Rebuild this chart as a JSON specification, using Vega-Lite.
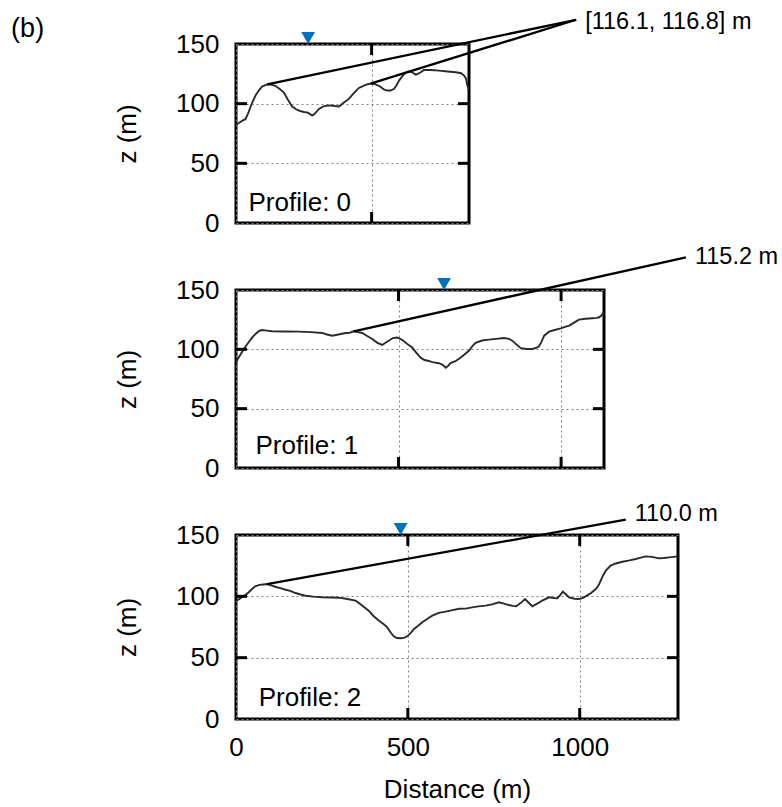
{
  "$schema": "https://vega.github.io/schema/vega-lite/v6.json",
  "autosize": {"type": "pad"},
  "padding": {"left": 11, "top": 8, "right": 2, "bottom": 4},
  "background": "white",
  "title": {
    "text": "(b)",
    "anchor": "start",
    "frame": "bounds",
    "offset": 0,
    "dx": -102,
    "dy": 35,
    "font": "Liberation Sans",
    "fontSize": 27,
    "fontWeight": "normal",
    "color": "black"
  },
  "config": {
    "font": "Liberation Sans",
    "view": {"stroke": "black", "strokeWidth": 3},
    "axis": {
      "domain": false,
      "ticks": false,
      "tickSize": 0,
      "labelFont": "Liberation Sans",
      "labelFontSize": 26,
      "labelColor": "black",
      "labelFlush": false,
      "labelOverlap": false,
      "titleFont": "Liberation Sans",
      "titleFontSize": 26,
      "titleFontWeight": "normal",
      "titleColor": "black",
      "gridColor": "#808080",
      "gridDash": [2, 3],
      "gridWidth": 1,
      "gridOpacity": 1
    },
    "text": {"font": "Liberation Sans", "color": "black"}
  },
  "datasets": {
    "profiles": [
      {"profile": 0, "d": 0, "z": 82.5}, {"profile": 0, "d": 12, "z": 84}, {"profile": 0, "d": 25, "z": 86},
      {"profile": 0, "d": 35, "z": 87}, {"profile": 0, "d": 45, "z": 92}, {"profile": 0, "d": 53, "z": 97},
      {"profile": 0, "d": 62, "z": 102}, {"profile": 0, "d": 72, "z": 106.8}, {"profile": 0, "d": 84, "z": 111},
      {"profile": 0, "d": 96, "z": 114.3}, {"profile": 0, "d": 115, "z": 116.1}, {"profile": 0, "d": 130, "z": 116},
      {"profile": 0, "d": 145, "z": 115}, {"profile": 0, "d": 160, "z": 112.5}, {"profile": 0, "d": 176, "z": 109.5},
      {"profile": 0, "d": 192, "z": 103}, {"profile": 0, "d": 207, "z": 97.6}, {"profile": 0, "d": 220, "z": 95.5},
      {"profile": 0, "d": 232, "z": 94.2}, {"profile": 0, "d": 250, "z": 93}, {"profile": 0, "d": 265, "z": 92.5},
      {"profile": 0, "d": 281, "z": 90}, {"profile": 0, "d": 290, "z": 91.5}, {"profile": 0, "d": 306, "z": 95.6},
      {"profile": 0, "d": 320, "z": 97.5}, {"profile": 0, "d": 336, "z": 98.4}, {"profile": 0, "d": 350, "z": 98.5},
      {"profile": 0, "d": 365, "z": 98}, {"profile": 0, "d": 380, "z": 97.6}, {"profile": 0, "d": 398, "z": 101},
      {"profile": 0, "d": 416, "z": 104}, {"profile": 0, "d": 435, "z": 109}, {"profile": 0, "d": 453, "z": 113.2},
      {"profile": 0, "d": 470, "z": 115}, {"profile": 0, "d": 485, "z": 116.3}, {"profile": 0, "d": 496, "z": 116.8},
      {"profile": 0, "d": 510, "z": 116.5}, {"profile": 0, "d": 527, "z": 115}, {"profile": 0, "d": 545, "z": 112},
      {"profile": 0, "d": 558, "z": 111}, {"profile": 0, "d": 570, "z": 111}, {"profile": 0, "d": 583, "z": 112.4},
      {"profile": 0, "d": 592, "z": 115.5}, {"profile": 0, "d": 601, "z": 119.3}, {"profile": 0, "d": 610, "z": 122},
      {"profile": 0, "d": 620, "z": 125}, {"profile": 0, "d": 632, "z": 126.8}, {"profile": 0, "d": 644, "z": 127},
      {"profile": 0, "d": 654, "z": 125.5}, {"profile": 0, "d": 663, "z": 124.3}, {"profile": 0, "d": 672, "z": 125.2},
      {"profile": 0, "d": 681, "z": 126.3}, {"profile": 0, "d": 693, "z": 128.3}, {"profile": 0, "d": 720, "z": 128.2},
      {"profile": 0, "d": 749, "z": 127.7}, {"profile": 0, "d": 780, "z": 127}, {"profile": 0, "d": 810, "z": 126.3},
      {"profile": 0, "d": 830, "z": 125.5}, {"profile": 0, "d": 841, "z": 123.5}, {"profile": 0, "d": 848, "z": 121},
      {"profile": 0, "d": 853, "z": 115}, {"profile": 0, "d": 858, "z": 112},

      {"profile": 1, "d": 0, "z": 89}, {"profile": 1, "d": 8, "z": 93}, {"profile": 1, "d": 18, "z": 97.6},
      {"profile": 1, "d": 28, "z": 102}, {"profile": 1, "d": 39, "z": 106}, {"profile": 1, "d": 50, "z": 110},
      {"profile": 1, "d": 60, "z": 113}, {"profile": 1, "d": 70, "z": 115.3}, {"profile": 1, "d": 80, "z": 116.3},
      {"profile": 1, "d": 95, "z": 115.8}, {"profile": 1, "d": 111, "z": 115.2}, {"profile": 1, "d": 150, "z": 115},
      {"profile": 1, "d": 193, "z": 114.9}, {"profile": 1, "d": 230, "z": 114.5}, {"profile": 1, "d": 265, "z": 113.8},
      {"profile": 1, "d": 280, "z": 112.5}, {"profile": 1, "d": 296, "z": 111.5}, {"profile": 1, "d": 315, "z": 112.5},
      {"profile": 1, "d": 337, "z": 113.8}, {"profile": 1, "d": 350, "z": 114}, {"profile": 1, "d": 362, "z": 115.2},
      {"profile": 1, "d": 375, "z": 114.5}, {"profile": 1, "d": 388, "z": 113.8}, {"profile": 1, "d": 405, "z": 111},
      {"profile": 1, "d": 419, "z": 108.7}, {"profile": 1, "d": 435, "z": 105.5}, {"profile": 1, "d": 450, "z": 103.7},
      {"profile": 1, "d": 460, "z": 105.5}, {"profile": 1, "d": 470, "z": 107.3}, {"profile": 1, "d": 482, "z": 109.5},
      {"profile": 1, "d": 496, "z": 110}, {"profile": 1, "d": 511, "z": 108}, {"profile": 1, "d": 527, "z": 104.5},
      {"profile": 1, "d": 542, "z": 101.5}, {"profile": 1, "d": 555, "z": 97}, {"profile": 1, "d": 568, "z": 93},
      {"profile": 1, "d": 580, "z": 91}, {"profile": 1, "d": 593, "z": 90.2}, {"profile": 1, "d": 604, "z": 89.2},
      {"profile": 1, "d": 624, "z": 88.3}, {"profile": 1, "d": 636, "z": 87}, {"profile": 1, "d": 645, "z": 84.5},
      {"profile": 1, "d": 652, "z": 86}, {"profile": 1, "d": 660, "z": 88.4}, {"profile": 1, "d": 675, "z": 90},
      {"profile": 1, "d": 686, "z": 92}, {"profile": 1, "d": 700, "z": 95}, {"profile": 1, "d": 717, "z": 99},
      {"profile": 1, "d": 728, "z": 103}, {"profile": 1, "d": 737, "z": 105.4}, {"profile": 1, "d": 757, "z": 107.4},
      {"profile": 1, "d": 778, "z": 108.2}, {"profile": 1, "d": 800, "z": 108.8}, {"profile": 1, "d": 824, "z": 109.6},
      {"profile": 1, "d": 840, "z": 108.8}, {"profile": 1, "d": 850, "z": 107.3}, {"profile": 1, "d": 863, "z": 104},
      {"profile": 1, "d": 876, "z": 101}, {"profile": 1, "d": 895, "z": 100.3}, {"profile": 1, "d": 912, "z": 100.3},
      {"profile": 1, "d": 925, "z": 101.5}, {"profile": 1, "d": 932, "z": 102.6}, {"profile": 1, "d": 940, "z": 106.5},
      {"profile": 1, "d": 948, "z": 111.5}, {"profile": 1, "d": 963, "z": 114.9}, {"profile": 1, "d": 980, "z": 116.3},
      {"profile": 1, "d": 999, "z": 117.7}, {"profile": 1, "d": 1012, "z": 119}, {"profile": 1, "d": 1025, "z": 120},
      {"profile": 1, "d": 1040, "z": 122.5}, {"profile": 1, "d": 1055, "z": 125}, {"profile": 1, "d": 1075, "z": 125.8},
      {"profile": 1, "d": 1096, "z": 126.2}, {"profile": 1, "d": 1110, "z": 126.5}, {"profile": 1, "d": 1117, "z": 127},
      {"profile": 1, "d": 1124, "z": 128.5}, {"profile": 1, "d": 1131, "z": 131},

      {"profile": 2, "d": 0, "z": 96.5}, {"profile": 2, "d": 8, "z": 97.5}, {"profile": 2, "d": 17, "z": 99.2},
      {"profile": 2, "d": 27, "z": 101}, {"profile": 2, "d": 37, "z": 103.3}, {"profile": 2, "d": 46, "z": 105.8},
      {"profile": 2, "d": 56, "z": 108.2}, {"profile": 2, "d": 68, "z": 109.3}, {"profile": 2, "d": 80, "z": 109.7},
      {"profile": 2, "d": 90, "z": 110}, {"profile": 2, "d": 100, "z": 109.2}, {"profile": 2, "d": 119, "z": 107.4},
      {"profile": 2, "d": 132, "z": 106.5}, {"profile": 2, "d": 144, "z": 105.4}, {"profile": 2, "d": 158, "z": 104.5},
      {"profile": 2, "d": 173, "z": 102.7}, {"profile": 2, "d": 188, "z": 101.5}, {"profile": 2, "d": 202, "z": 100.5},
      {"profile": 2, "d": 225, "z": 99.8}, {"profile": 2, "d": 250, "z": 99.2}, {"profile": 2, "d": 275, "z": 99},
      {"profile": 2, "d": 299, "z": 98.9}, {"profile": 2, "d": 320, "z": 98}, {"profile": 2, "d": 348, "z": 96.5},
      {"profile": 2, "d": 367, "z": 92.5}, {"profile": 2, "d": 386, "z": 88.3}, {"profile": 2, "d": 400, "z": 84},
      {"profile": 2, "d": 416, "z": 80.1}, {"profile": 2, "d": 430, "z": 77.3}, {"profile": 2, "d": 440, "z": 74.7},
      {"profile": 2, "d": 450, "z": 70.5}, {"profile": 2, "d": 459, "z": 67.4}, {"profile": 2, "d": 468, "z": 66},
      {"profile": 2, "d": 479, "z": 65.8}, {"profile": 2, "d": 490, "z": 66.3}, {"profile": 2, "d": 498, "z": 67.4},
      {"profile": 2, "d": 508, "z": 70}, {"profile": 2, "d": 518, "z": 73.4}, {"profile": 2, "d": 530, "z": 76},
      {"profile": 2, "d": 542, "z": 78.8}, {"profile": 2, "d": 556, "z": 81.5}, {"profile": 2, "d": 571, "z": 84.2},
      {"profile": 2, "d": 590, "z": 86.5}, {"profile": 2, "d": 610, "z": 87.5}, {"profile": 2, "d": 630, "z": 88.8},
      {"profile": 2, "d": 649, "z": 89.9}, {"profile": 2, "d": 668, "z": 90}, {"profile": 2, "d": 687, "z": 91},
      {"profile": 2, "d": 705, "z": 91.8}, {"profile": 2, "d": 726, "z": 92.4}, {"profile": 2, "d": 745, "z": 93.5},
      {"profile": 2, "d": 765, "z": 95.1}, {"profile": 2, "d": 780, "z": 94}, {"profile": 2, "d": 794, "z": 92.9},
      {"profile": 2, "d": 805, "z": 92.2}, {"profile": 2, "d": 815, "z": 91.9}, {"profile": 2, "d": 828, "z": 94.5},
      {"profile": 2, "d": 841, "z": 97.8}, {"profile": 2, "d": 851, "z": 95}, {"profile": 2, "d": 862, "z": 91.9},
      {"profile": 2, "d": 876, "z": 94}, {"profile": 2, "d": 891, "z": 96.5}, {"profile": 2, "d": 911, "z": 99.2},
      {"profile": 2, "d": 925, "z": 98.6}, {"profile": 2, "d": 935, "z": 98.4}, {"profile": 2, "d": 943, "z": 101},
      {"profile": 2, "d": 951, "z": 103.8}, {"profile": 2, "d": 960, "z": 101.5}, {"profile": 2, "d": 969, "z": 99.2},
      {"profile": 2, "d": 985, "z": 98}, {"profile": 2, "d": 998, "z": 97.8}, {"profile": 2, "d": 1008, "z": 98.5},
      {"profile": 2, "d": 1017, "z": 100}, {"profile": 2, "d": 1032, "z": 102.5}, {"profile": 2, "d": 1047, "z": 106},
      {"profile": 2, "d": 1055, "z": 109}, {"profile": 2, "d": 1061, "z": 112.7}, {"profile": 2, "d": 1068, "z": 117},
      {"profile": 2, "d": 1076, "z": 120.9}, {"profile": 2, "d": 1090, "z": 125}, {"profile": 2, "d": 1105, "z": 126.8},
      {"profile": 2, "d": 1124, "z": 128.2}, {"profile": 2, "d": 1145, "z": 129.3}, {"profile": 2, "d": 1163, "z": 130.4},
      {"profile": 2, "d": 1178, "z": 131.5}, {"profile": 2, "d": 1192, "z": 132.6}, {"profile": 2, "d": 1210, "z": 132.2},
      {"profile": 2, "d": 1231, "z": 131}, {"profile": 2, "d": 1245, "z": 131.3}, {"profile": 2, "d": 1260, "z": 131.8},
      {"profile": 2, "d": 1285, "z": 132.6}
    ],
    "horizon": [
      {"profile": 0, "d": 115, "z": 116.1},
      {"profile": 0, "d": 496, "z": 116.8},
      {"profile": 1, "d": 362, "z": 115.2},
      {"profile": 2, "d": 90, "z": 110.0}
    ],
    "stations": [
      {"profile": 0, "d": 266},
      {"profile": 1, "d": 640},
      {"profile": 2, "d": 479}
    ],
    "xticks": [
      {"profile": 0, "d": 500, "z": 0}, {"profile": 0, "d": 500, "z": 150},
      {"profile": 1, "d": 500, "z": 0}, {"profile": 1, "d": 500, "z": 150},
      {"profile": 1, "d": 1000, "z": 0}, {"profile": 1, "d": 1000, "z": 150},
      {"profile": 2, "d": 500, "z": 0}, {"profile": 2, "d": 500, "z": 150},
      {"profile": 2, "d": 1000, "z": 0}, {"profile": 2, "d": 1000, "z": 150}
    ],
    "yticks": [
      {"profile": 0, "d": 0, "z": 50}, {"profile": 0, "d": 0, "z": 100},
      {"profile": 0, "d": 859, "z": 50}, {"profile": 0, "d": 859, "z": 100},
      {"profile": 1, "d": 0, "z": 50}, {"profile": 1, "d": 0, "z": 100},
      {"profile": 1, "d": 1132, "z": 50}, {"profile": 1, "d": 1132, "z": 100},
      {"profile": 2, "d": 0, "z": 50}, {"profile": 2, "d": 0, "z": 100},
      {"profile": 2, "d": 1286, "z": 50}, {"profile": 2, "d": 1286, "z": 100}
    ]
  },
  "bounds": "flush",
  "spacing": 67,
  "vconcat": [
    {
      "width": 233,
      "height": 179,
      "layer": [
        {
          "data": {"name": "profiles"},
          "transform": [{"filter": "datum.profile == 0"}],
          "mark": {"type": "line", "color": "#2a2a2a", "strokeWidth": 1.9, "clip": true},
          "encoding": {
            "x": {"field": "d", "type": "quantitative", "scale": {"domain": [0, 859], "nice": false},
                  "axis": {"values": [0, 500], "labels": false, "title": null, "grid": true}},
            "y": {"field": "z", "type": "quantitative", "scale": {"domain": [0, 150], "nice": false},
                  "axis": {"values": [0, 50, 100, 150], "title": "z (m)", "grid": true, "labelPadding": 17, "titlePadding": 35}}
          }
        },
        {
          "data": {"name": "xticks"},
          "transform": [{"filter": "datum.profile == 0"}],
          "mark": {"type": "tick", "orient": "vertical", "size": 22, "thickness": 3, "color": "black", "opacity": 1, "clip": true},
          "encoding": {"x": {"field": "d", "type": "quantitative"}, "y": {"field": "z", "type": "quantitative"}}
        },
        {
          "data": {"name": "yticks"},
          "transform": [{"filter": "datum.profile == 0"}],
          "mark": {"type": "tick", "orient": "horizontal", "size": 22, "thickness": 3, "color": "black", "opacity": 1, "clip": true},
          "encoding": {"x": {"field": "d", "type": "quantitative"}, "y": {"field": "z", "type": "quantitative"}}
        },
        {
          "data": {"name": "horizon"},
          "transform": [{"filter": "datum.profile == 0"}],
          "mark": {"type": "rule", "color": "black", "strokeWidth": 2.3, "clip": false},
          "encoding": {
            "x": {"field": "d", "type": "quantitative"},
            "y": {"field": "z", "type": "quantitative"},
            "x2": {"datum": 1254},
            "y2": {"datum": 170.3}
          }
        },
        {
          "data": {"values": [{"label": "[116.1, 116.8] m"}]},
          "mark": {"type": "text", "align": "left", "baseline": "middle", "dx": 9, "dy": 2, "fontSize": 23.5, "clip": false},
          "encoding": {
            "x": {"datum": 1254, "type": "quantitative"},
            "y": {"datum": 170.3, "type": "quantitative"},
            "text": {"field": "label"}
          }
        },
        {
          "data": {"name": "stations"},
          "transform": [{"filter": "datum.profile == 0"}],
          "mark": {"type": "point", "shape": "triangle-down", "filled": true, "color": "#0070C0", "opacity": 1, "size": 190, "yOffset": -6, "clip": false},
          "encoding": {
            "x": {"field": "d", "type": "quantitative"},
            "y": {"datum": 150, "type": "quantitative"}
          }
        },
        {
          "data": {"values": [{"label": "Profile: 0"}]},
          "mark": {"type": "text", "align": "left", "baseline": "alphabetic", "fontSize": 26},
          "encoding": {
            "x": {"datum": 46, "type": "quantitative"},
            "y": {"datum": 10, "type": "quantitative"},
            "text": {"field": "label"}
          }
        }
      ]
    },
    {
      "width": 368,
      "height": 178,
      "layer": [
        {
          "data": {"name": "profiles"},
          "transform": [{"filter": "datum.profile == 1"}],
          "mark": {"type": "line", "color": "#2a2a2a", "strokeWidth": 1.9, "clip": true},
          "encoding": {
            "x": {"field": "d", "type": "quantitative", "scale": {"domain": [0, 1132], "nice": false},
                  "axis": {"values": [0, 500, 1000], "labels": false, "title": null, "grid": true}},
            "y": {"field": "z", "type": "quantitative", "scale": {"domain": [0, 150], "nice": false},
                  "axis": {"values": [0, 50, 100, 150], "title": "z (m)", "grid": true, "labelPadding": 17, "titlePadding": 35}}
          }
        },
        {
          "data": {"name": "xticks"},
          "transform": [{"filter": "datum.profile == 1"}],
          "mark": {"type": "tick", "orient": "vertical", "size": 22, "thickness": 3, "color": "black", "opacity": 1, "clip": true},
          "encoding": {"x": {"field": "d", "type": "quantitative"}, "y": {"field": "z", "type": "quantitative"}}
        },
        {
          "data": {"name": "yticks"},
          "transform": [{"filter": "datum.profile == 1"}],
          "mark": {"type": "tick", "orient": "horizontal", "size": 22, "thickness": 3, "color": "black", "opacity": 1, "clip": true},
          "encoding": {"x": {"field": "d", "type": "quantitative"}, "y": {"field": "z", "type": "quantitative"}}
        },
        {
          "data": {"name": "horizon"},
          "transform": [{"filter": "datum.profile == 1"}],
          "mark": {"type": "rule", "color": "black", "strokeWidth": 2.3, "clip": false},
          "encoding": {
            "x": {"field": "d", "type": "quantitative"},
            "y": {"field": "z", "type": "quantitative"},
            "x2": {"datum": 1384},
            "y2": {"datum": 177.5}
          }
        },
        {
          "data": {"values": [{"label": "115.2 m"}]},
          "mark": {"type": "text", "align": "left", "baseline": "middle", "dx": 9, "dy": 0, "fontSize": 23.5, "clip": false},
          "encoding": {
            "x": {"datum": 1384, "type": "quantitative"},
            "y": {"datum": 177.5, "type": "quantitative"},
            "text": {"field": "label"}
          }
        },
        {
          "data": {"name": "stations"},
          "transform": [{"filter": "datum.profile == 1"}],
          "mark": {"type": "point", "shape": "triangle-down", "filled": true, "color": "#0070C0", "opacity": 1, "size": 190, "yOffset": -6, "clip": false},
          "encoding": {
            "x": {"field": "d", "type": "quantitative"},
            "y": {"datum": 150, "type": "quantitative"}
          }
        },
        {
          "data": {"values": [{"label": "Profile: 1"}]},
          "mark": {"type": "text", "align": "left", "baseline": "alphabetic", "fontSize": 26},
          "encoding": {
            "x": {"datum": 60, "type": "quantitative"},
            "y": {"datum": 11.5, "type": "quantitative"},
            "text": {"field": "label"}
          }
        }
      ]
    },
    {
      "width": 442,
      "height": 184,
      "layer": [
        {
          "data": {"name": "profiles"},
          "transform": [{"filter": "datum.profile == 2"}],
          "mark": {"type": "line", "color": "#2a2a2a", "strokeWidth": 1.9, "clip": true},
          "encoding": {
            "x": {"field": "d", "type": "quantitative", "scale": {"domain": [0, 1286], "nice": false},
                  "axis": {"values": [0, 500, 1000], "format": "d", "title": "Distance (m)", "grid": true, "labelPadding": 15, "titlePadding": 16}},
            "y": {"field": "z", "type": "quantitative", "scale": {"domain": [0, 150], "nice": false},
                  "axis": {"values": [0, 50, 100, 150], "title": "z (m)", "grid": true, "labelPadding": 17, "titlePadding": 35}}
          }
        },
        {
          "data": {"name": "xticks"},
          "transform": [{"filter": "datum.profile == 2"}],
          "mark": {"type": "tick", "orient": "vertical", "size": 22, "thickness": 3, "color": "black", "opacity": 1, "clip": true},
          "encoding": {"x": {"field": "d", "type": "quantitative"}, "y": {"field": "z", "type": "quantitative"}}
        },
        {
          "data": {"name": "yticks"},
          "transform": [{"filter": "datum.profile == 2"}],
          "mark": {"type": "tick", "orient": "horizontal", "size": 22, "thickness": 3, "color": "black", "opacity": 1, "clip": true},
          "encoding": {"x": {"field": "d", "type": "quantitative"}, "y": {"field": "z", "type": "quantitative"}}
        },
        {
          "data": {"name": "horizon"},
          "transform": [{"filter": "datum.profile == 2"}],
          "mark": {"type": "rule", "color": "black", "strokeWidth": 2.3, "clip": false},
          "encoding": {
            "x": {"field": "d", "type": "quantitative"},
            "y": {"field": "z", "type": "quantitative"},
            "x2": {"datum": 1134},
            "y2": {"datum": 162.5}
          }
        },
        {
          "data": {"values": [{"label": "110.0 m"}]},
          "mark": {"type": "text", "align": "left", "baseline": "middle", "dx": 9, "dy": -6, "fontSize": 23.5, "clip": false},
          "encoding": {
            "x": {"datum": 1134, "type": "quantitative"},
            "y": {"datum": 162.5, "type": "quantitative"},
            "text": {"field": "label"}
          }
        },
        {
          "data": {"name": "stations"},
          "transform": [{"filter": "datum.profile == 2"}],
          "mark": {"type": "point", "shape": "triangle-down", "filled": true, "color": "#0070C0", "opacity": 1, "size": 190, "yOffset": -6, "clip": false},
          "encoding": {
            "x": {"field": "d", "type": "quantitative"},
            "y": {"datum": 150, "type": "quantitative"}
          }
        },
        {
          "data": {"values": [{"label": "Profile: 2"}]},
          "mark": {"type": "text", "align": "left", "baseline": "alphabetic", "fontSize": 26},
          "encoding": {
            "x": {"datum": 66, "type": "quantitative"},
            "y": {"datum": 10.6, "type": "quantitative"},
            "text": {"field": "label"}
          }
        }
      ]
    }
  ]
}
